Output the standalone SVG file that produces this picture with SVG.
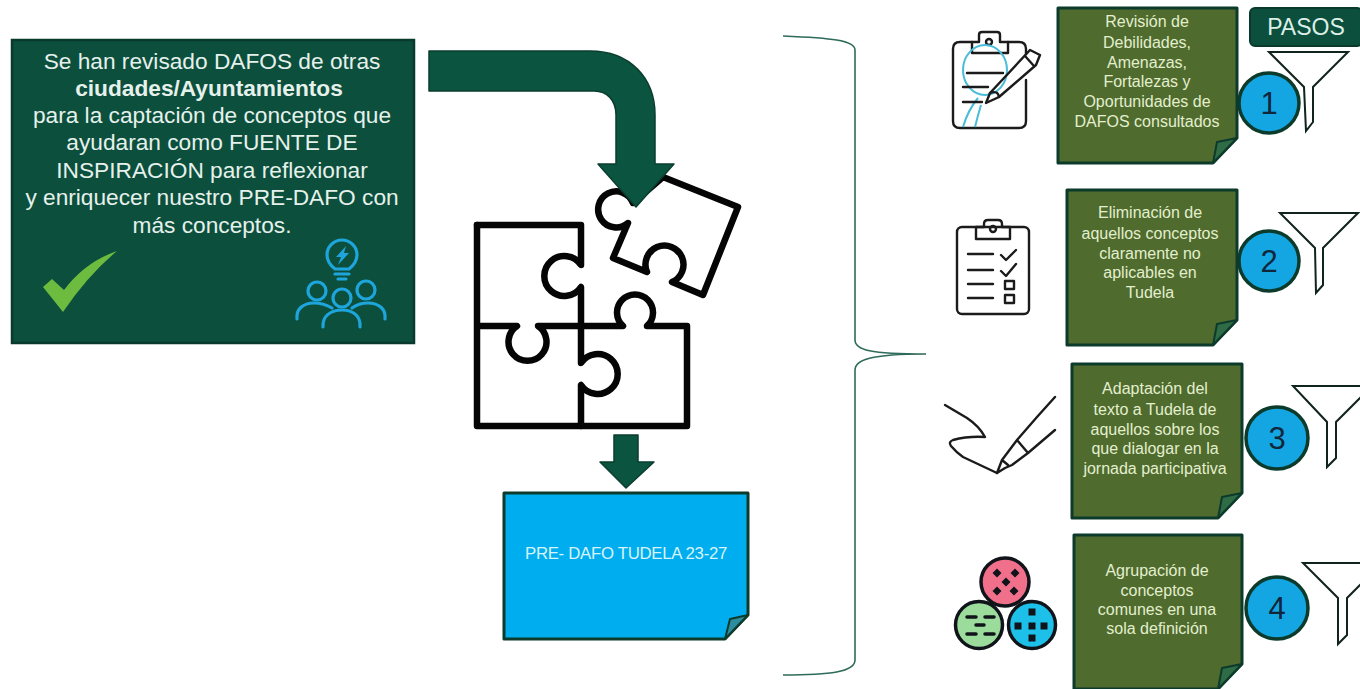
<svg xmlns="http://www.w3.org/2000/svg" width="1360" height="689" viewBox="0 0 1360 689">
<style>
text{font-family:"Liberation Sans",Arial,sans-serif;text-anchor:middle}
.main{font-size:22.7px;fill:#e6f1ec}
.note{fill:#4f6b2d;stroke:#0c3b2c;stroke-width:3;stroke-linejoin:round}
.fold{fill:#2f6b45;stroke:#0c3b2c;stroke-width:2;stroke-linejoin:round}
.nt{font-size:16px;fill:#e3efcf}
.arrow{fill:#0b5540;stroke:#0a3d2e;stroke-width:1.5;stroke-linejoin:round}
.puz{fill:none;stroke:#050505;stroke-width:6.5;stroke-linejoin:round;stroke-linecap:round}
.fun{fill:#fff;stroke:#10231c;stroke-width:2;stroke-linejoin:miter}
.num{fill:#14a6e3;stroke:#0c3b2c;stroke-width:3.5}
.dg{font-size:31px;fill:#10263a}
.ic{fill:none;stroke:#1b1b1b;stroke-width:2.4;stroke-linecap:round;stroke-linejoin:round}
.bl{fill:none;stroke:#1ea5dc;stroke-width:3.2;stroke-linecap:round;stroke-linejoin:round}
.cy{fill:none;stroke:#49bcd8;stroke-width:2}
.cl{stroke:#10141a;stroke-width:3.5}
.dash{fill:none;stroke:#10141a;stroke-width:3.5;stroke-linecap:round}
.mk{fill:#10141a}
</style>

<g id="puzzle">
<path class="puz" d="M663 177L738 207L703 295L672 282A19 19 0 1 0 647 272L613 258L628 223A18 18 0 1 1 633 203Z"/>
<path class="puz" d="M477 225H581V265A20 20 0 1 0 581 287V326"/>
<path class="puz" d="M477 225V426H687V326H647A18 18 0 1 0 623 326H538A19 19 0 1 1 517 326H477"/>
<path class="puz" d="M581 326V363A20 20 0 1 1 581 385V426"/>
</g>

<g id="connectors">
<path class="arrow" d="M429 51H590C630 51 655 78 655 115V164H674L636 207L598 164H616V115C616 100 607 91 594 91H429Z"/>
<path class="arrow" d="M614 435H638V462H654L626 488L600 462H614Z"/>
<path d="M783 36C830 38 855 40 855 50V340C855 350 870 354 926 354C870 354 855 360 855 370V660C855 672 830 675 783 675" fill="none" stroke="#2f6b5a" stroke-width="1.6"/>
</g>

<g id="box-fuente">
<rect x="12" y="40" width="402" height="303" fill="#0b4f3c" stroke="#0a3a2c" stroke-width="2.5"/>
<text class="main" x="212" y="69">Se han revisado DAFOS de otras</text>
<text class="main" x="209" y="96" font-weight="bold">ciudades/Ayuntamientos</text>
<text class="main" x="212" y="123">para la captación de conceptos que</text>
<text class="main" x="212" y="150">ayudaran como FUENTE DE</text>
<text class="main" x="212" y="178">INSPIRACIÓN para reflexionar</text>
<text class="main" x="212" y="205">y enriquecer nuestro PRE-DAFO con</text>
<text class="main" x="212" y="233">más conceptos.</text>
<path d="M43 287L52 279L64 290Q85 262 117 251Q88 275 63 312Z" fill="#6dbb3f"/>
<g>
<path class="bl" d="M335 269C330 265 327 261 327 255A15 15 0 0 1 357 255C357 261 354 265 349 269Z"/>
<path class="bl" d="M335 274H349M338 279H346"/>
<path d="M346 246L336 257H341L338 265L349 253H344Z" fill="#1ea5dc"/>
<circle class="bl" cx="317" cy="291" r="9"/><circle class="bl" cx="366" cy="290" r="9"/><circle class="bl" cx="342" cy="298" r="9"/>
<path class="bl" d="M297 319C296 309 303 303 314 303C321 303 327 305 332 308M385 319C386 309 379 303 368 303C361 303 356 305 352 308M323 327C322 316 331 310 342 310C353 310 361 316 360 327"/>
</g>
</g>

<g id="note-predafo">
<path d="M504 493H748V615L725 639H504Z" fill="#00aeef" stroke="#0c3b2c" stroke-width="3" stroke-linejoin="round"/>
<path d="M748 615L730 619L725 639Z" fill="#2d8c9e" stroke="#0c3b2c" stroke-width="2" stroke-linejoin="round"/>
<text x="626" y="559" font-size="16.8" fill="#d9f3fb" letter-spacing="-.3">PRE- DAFO TUDELA 23-27</text>
</g>

<g id="step-1">
<g>
<path class="ic" d="M972 42H960Q953 42 953 49V121Q953 128 960 128H1019Q1026 128 1026 121V80M1008 42H1019Q1026 42 1026 49V54"/>
<path class="ic" d="M972 53V42H979V35Q979 32 982 32H997Q1000 32 1000 35V42H1008V53Z"/>
<circle class="ic" cx="989" cy="42" r="3"/>
<ellipse class="cy" cx="985" cy="70" rx="22" ry="25"/>
<path class="cy" d="M978 98Q968 110 963 127M981 105Q978 115 975 127"/>
<path class="ic" d="M967 73H1003M963 87H988M963 102H982"/>
<path class="ic" d="M986 103L990 93L1030 50L1040 55L1036 65L999 97Z"/>
<path class="ic" d="M1025 56L1034 66M990 93Q998 90 999 97"/>
</g>
<path class="note" d="M1058 8H1237V138L1213 163H1058Z"/>
<path class="fold" d="M1237 138L1217 142L1213 163Z"/>
<text class="nt" x="1147" y="27">Revisión de</text>
<text class="nt" x="1147" y="48">Debilidades,</text>
<text class="nt" x="1147" y="68">Amenazas,</text>
<text class="nt" x="1147" y="87">Fortalezas y</text>
<text class="nt" x="1147" y="107">Oportunidades de</text>
<text class="nt" x="1147" y="127">DAFOS consultados</text>
<path class="fun" d="M1269 52H1348L1313 87V122L1306 131L1304 87Z"/>
<circle class="num" cx="1269" cy="103" r="30"/>
<text class="dg" x="1269" y="114">1</text>
</g>

<g id="pasos">
<rect x="1250" y="8" width="112" height="38" rx="5" fill="#0b4f3c" stroke="#0a3a2c" stroke-width="2"/>
<text x="1306" y="35" font-size="23" fill="#dceee8">PASOS</text>
</g>

<g id="step-2">
<g>
<rect class="ic" x="957" y="227" width="72" height="87" rx="5"/>
<path class="ic" d="M976 239V227H984V224Q984 220 988 220H998Q1002 220 1002 224V227H1010V239Z" fill="#fff"/>
<circle class="ic" cx="993" cy="229" r="3"/>
<path class="ic" d="M968 254H993M968 270H993M968 284H993M968 298H993M1001 255L1006 260L1016 250M1001 271L1006 276L1016 264"/>
<rect class="ic" x="1005" y="281" width="9" height="8"/><rect class="ic" x="1005" y="295" width="9" height="8"/>
</g>
<path class="note" d="M1067 190H1237V320L1213 345H1067Z"/>
<path class="fold" d="M1237 320L1217 324L1213 345Z"/>
<text class="nt" x="1150" y="218">Eliminación de</text>
<text class="nt" x="1150" y="239">aquellos conceptos</text>
<text class="nt" x="1150" y="259">claramente no</text>
<text class="nt" x="1150" y="278">aplicables en</text>
<text class="nt" x="1150" y="298">Tudela</text>
<path class="fun" d="M1280 213H1358L1323 248V285L1316 293L1315 248Z"/>
<circle class="num" cx="1269" cy="261" r="30"/>
<text class="dg" x="1269" y="272">2</text>
</g>

<g id="step-3">
<path class="ic" d="M945 405L967 418Q979 426 985 437Q968 436 953 440Q948 442 951 446Q956 452 963 457L997 473"/>
<path class="ic" d="M997 473L1002 460L1017 440L1037 417L1055 397M997 473L1005 468L1012 465L1028 453L1055 430M1017 440L1028 453M1002 460L1008 465"/>
<path class="note" d="M1072 364H1242V493L1218 518H1072Z"/>
<path class="fold" d="M1242 493L1222 497L1218 518Z"/>
<text class="nt" x="1155" y="394">Adaptación del</text>
<text class="nt" x="1155" y="415">texto a Tudela de</text>
<text class="nt" x="1155" y="435">aquellos sobre los</text>
<text class="nt" x="1155" y="454">que dialogar en la</text>
<text class="nt" x="1155" y="474">jornada participativa</text>
<path class="fun" d="M1293 386H1372L1336 422V458L1327 467V422Z"/>
<circle class="num" cx="1277" cy="438" r="31"/>
<text class="dg" x="1277" y="449">3</text>
</g>

<g id="step-4">
<g>
<circle class="cl" cx="1005" cy="582" r="24" fill="#f0708c"/>
<circle class="cl" cx="979" cy="625" r="23.5" fill="#9bdb9b"/>
<circle class="cl" cx="1032" cy="625" r="23.5" fill="#1cc0e8"/>
<path class="mk" d="M997 568.500l4.500 4.500-4.500 4.500-4.500-4.500zM1015 568.500l4.500 4.500-4.500 4.500-4.500-4.500zM1006 577.500l4.500 4.500-4.500 4.500-4.500-4.500zM997 586.500l4.500 4.500-4.500 4.500-4.500-4.500zM1014 586.500l4.500 4.500-4.500 4.500-4.500-4.500z"/>
<path class="dash" d="M967 617h9M985 617h9M976 625h8M967 634h9M985 634h9"/>
<path class="mk" d="M1028.500 608.500h7v7h-7zM1014.500 622.500h7v7h-7zM1028.500 622.500h7v7h-7zM1040.500 622.500h7v7h-7zM1028.500 634.500h7v7h-7z"/>
</g>
<path class="note" d="M1074 535H1242V664L1218 689H1074Z"/>
<path class="fold" d="M1242 664L1222 668L1218 689Z"/>
<text class="nt" x="1157" y="576">Agrupación de</text>
<text class="nt" x="1157" y="596">conceptos</text>
<text class="nt" x="1157" y="615">comunes en una</text>
<text class="nt" x="1157" y="634">sola definición</text>
<path class="fun" d="M1303 563H1382L1347 598V635L1338 644V598Z"/>
<circle class="num" cx="1277" cy="608" r="31"/>
<text class="dg" x="1277" y="619">4</text>
</g>
</svg>
